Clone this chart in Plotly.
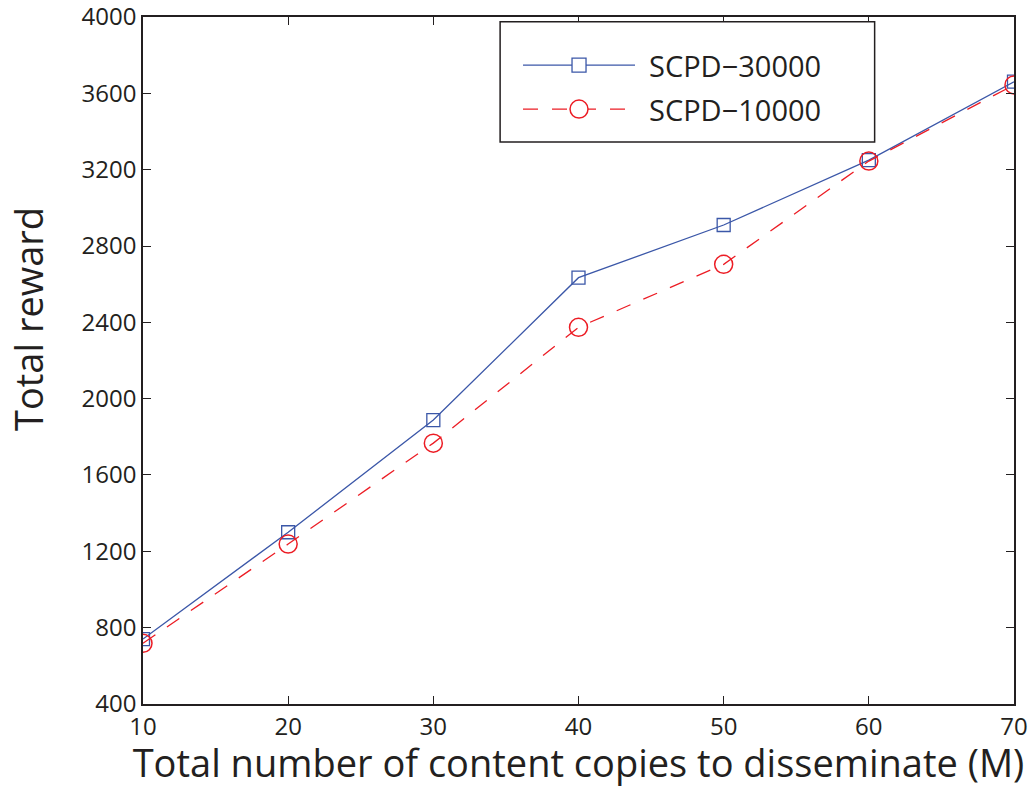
import plotly.graph_objects as go

# Number of content copies to disseminate (M)
copies = [10, 20, 30, 40, 50, 60, 70]

# Total reward for each scheme
reward_scpd_30000 = [740, 1300, 1888, 2634, 2910, 3250, 3661]
reward_scpd_10000 = [718, 1238, 1767, 2374, 2704, 3245, 3644]

series_names = ["SCPD\u221230000", "SCPD\u221210000"]

x_ticks = [10, 20, 30, 40, 50, 60, 70]
y_ticks = [400, 800, 1200, 1600, 2000, 2400, 2800, 3200, 3600, 4000]

BLUE = "#3b57a8"
RED = "#ec1c24"
INK = "#231f20"
FONT = "Open Sans"

fig = go.Figure()

fig.add_trace(go.Scatter(
    x=copies, y=reward_scpd_30000, name=series_names[0], mode="lines+markers",
    line=dict(color=BLUE, width=1.3),
    marker=dict(symbol="square-open", size=13, color=BLUE, line=dict(width=1.3)),
    showlegend=False,
))
fig.add_trace(go.Scatter(
    x=copies, y=reward_scpd_10000, name=series_names[1], mode="lines+markers",
    line=dict(color=RED, width=1.3, dash="15px,14px"),
    marker=dict(symbol="circle-open", size=18, color=RED, line=dict(width=1.5)),
    showlegend=False,
))

axis_common = dict(
    showline=True, linecolor=INK, linewidth=1.5, mirror="ticks",
    ticks="inside", ticklen=8, tickwidth=1.2, tickcolor=INK,
    showgrid=False, zeroline=False, ticklabeloverflow="allow",
    tickfont=dict(family=FONT, size=24, color=INK),
)

fig.update_xaxes(
    range=[10, 70], tickvals=x_ticks, **axis_common,
    title=dict(text="Total number of content copies to disseminate (M)",
               font=dict(family=FONT, size=38, color=INK), standoff=2),
)
fig.update_yaxes(range=[399.9, 4000.1], tickvals=y_ticks, **axis_common)

# Legend panel drawn in paper coordinates
lx0, lx1, ly0, ly1 = 0.410, 0.840, 0.818, 0.993
shapes = [dict(type="rect", xref="paper", yref="paper", x0=lx0, x1=lx1, y0=ly0, y1=ly1,
               line=dict(color=INK, width=1.5), fillcolor="white", layer="above")]
rows = [(0.930, BLUE, "solid", "square"), (0.866, RED, "15px,14px", "circle")]
seg_x0, seg_x1, mark_x = 0.4363, 0.5649, 0.5006
annotations = [dict(xref="paper", yref="paper", x=-0.132, y=0.5604, text="Total reward",
                    textangle=-90, showarrow=False, xanchor="center", yanchor="middle",
                    font=dict(family=FONT, size=38, color=INK))]
for (yy, col, dash, sym), label in zip(rows, series_names):
    shapes.append(dict(type="line", xref="paper", yref="paper", x0=seg_x0, x1=seg_x1,
                       y0=yy, y1=yy, line=dict(color=col, width=1.3, dash=dash), layer="above"))
    if sym == "square":
        hw, hh = 7.0 / 871, 7.0 / 687
        shapes.append(dict(type="rect", xref="paper", yref="paper",
                           x0=mark_x - hw, x1=mark_x + hw, y0=yy - hh, y1=yy + hh,
                           line=dict(color=col, width=1.3), fillcolor="white", layer="above"))
    else:
        rw, rh = 9.0 / 871, 9.0 / 687
        shapes.append(dict(type="circle", xref="paper", yref="paper",
                           x0=mark_x - rw, x1=mark_x + rw, y0=yy - rh, y1=yy + rh,
                           line=dict(color=col, width=1.5), fillcolor="white", layer="above"))
    annotations.append(dict(xref="paper", yref="paper", x=0.5787, y=yy, text=label,
                            showarrow=False, xanchor="left", yanchor="middle",
                            font=dict(family=FONT, size=29, color=INK)))

fig.update_layout(
    width=1031, height=788,
    margin=dict(l=143, r=17, t=17, b=84, autoexpand=False),
    paper_bgcolor="white", plot_bgcolor="white",
    shapes=shapes, annotations=annotations,
    showlegend=False,
)

fig.write_html("out.html")
